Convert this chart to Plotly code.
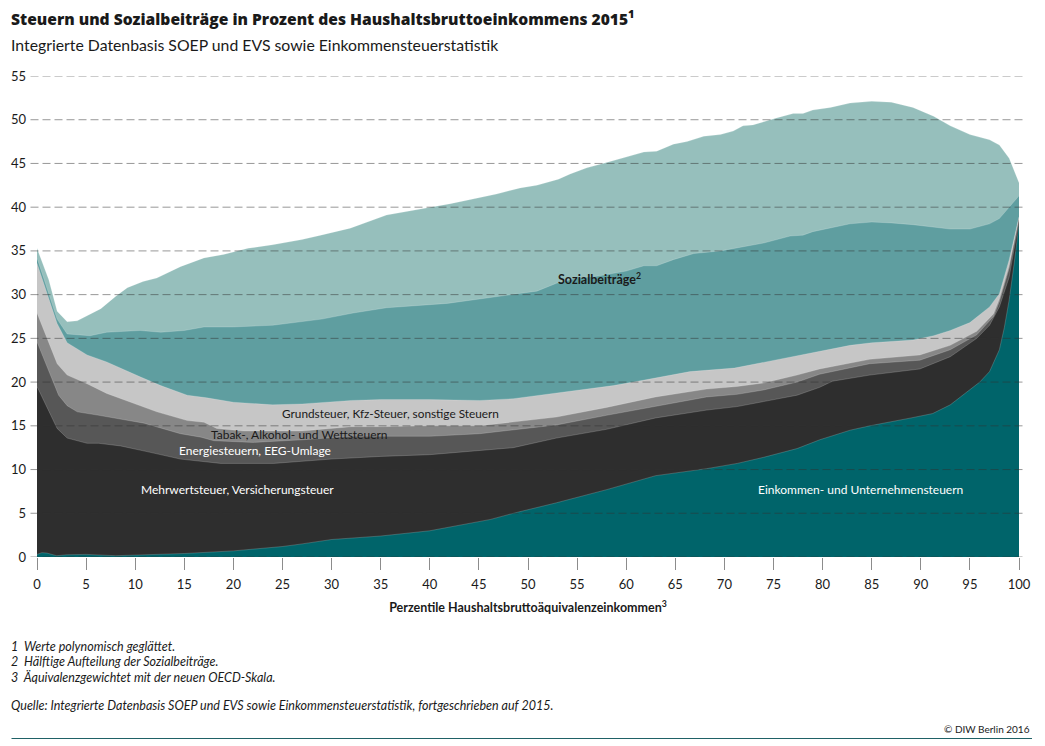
import plotly.graph_objects as go

# Chart values (cumulative upper edge of each band)
income_x = [0, 0.5, 1, 2, 3, 5, 8, 10, 15, 20, 25, 27, 30, 35, 40, 46.2, 48.5, 52.9, 58, 63, 68.2, 71.3, 74, 77.4, 79.7, 82.8, 84.8, 89, 91.2, 93, 95, 96, 97, 98, 98.5, 99, 99.5, 100]
income_top = [0.3, 0.5, 0.45, 0.15, 0.25, 0.3, 0.15, 0.2, 0.4, 0.7, 1.2, 1.5, 2.0, 2.4, 3.0, 4.3, 5.0, 6.2, 7.7, 9.3, 10.1, 10.7, 11.4, 12.4, 13.4, 14.5, 15.0, 15.9, 16.4, 17.4, 19.1, 20.0, 21.2, 23.7, 26.2, 29.4, 33.5, 38.0]

vat_x = [0, 1.2, 2.05, 3.07, 5.1, 6.3, 8.5, 11.2, 14.6, 18.7, 24.1, 30, 35, 40, 45.1, 48.5, 52.9, 58, 63, 68.2, 71.3, 74, 77.4, 79.7, 81, 84.8, 89.9, 93, 95.7, 97, 98, 99, 100]
vat_top = [19.5, 16.8, 14.7, 13.6, 13.0, 13.0, 12.7, 12.05, 11.2, 10.7, 10.7, 11.2, 11.5, 11.7, 12.2, 12.5, 13.6, 14.6, 15.9, 16.8, 17.2, 17.8, 18.5, 19.4, 20.1, 20.8, 21.5, 22.9, 25.0, 26.5, 28.6, 32.0, 38.4]

energy_x = [0, 2.2, 3.07, 4.1, 6.3, 7.9, 10.9, 14.6, 16.7, 18, 22, 27, 32, 35, 40, 45.1, 48.5, 52.9, 58, 63, 68.2, 71.3, 74, 77.4, 79.7, 84.8, 89.9, 93, 95.7, 97.4, 98, 99, 100]
energy_top = [24.6, 18.5, 17.3, 16.6, 16.2, 15.9, 15.3, 14.1, 13.7, 13.3, 13.1, 13.4, 13.8, 13.8, 13.8, 14.1, 14.5, 15.1, 16.2, 17.2, 18.3, 18.6, 19.1, 20.0, 20.9, 22.1, 22.5, 23.7, 25.4, 27.5, 29.2, 33.0, 38.6]

tobacco_x = [0, 2.05, 3.07, 5.1, 7.1, 9.2, 10.2, 12.2, 15.3, 17, 18.3, 21, 27, 32, 35, 40, 45.1, 48.5, 52.9, 58, 63, 68.2, 71.3, 74, 77.4, 79.7, 84.8, 89.9, 93, 95.7, 97.4, 98, 99, 100]
tobacco_top = [27.9, 22.1, 20.8, 19.8, 18.7, 17.8, 17.4, 16.6, 15.6, 15.4, 14.7, 14.4, 14.4, 14.9, 14.9, 15.0, 15.0, 15.4, 16.0, 17.1, 18.3, 19.2, 19.5, 19.9, 20.8, 21.5, 22.6, 23.1, 24.2, 25.8, 27.8, 29.5, 33.3, 38.8]

other_x = [0, 2.05, 3.07, 5.1, 7.1, 9.2, 10.5, 12.6, 15.3, 17.3, 20, 24, 27, 32, 35, 40, 45.1, 48.5, 53.9, 58.7, 61.7, 66.5, 71, 73.3, 77, 79.7, 82.8, 85, 89.2, 91.3, 93, 95, 97, 98, 99, 100]
other_top = [33.6, 26.7, 24.5, 23.1, 22.3, 21.2, 20.6, 19.6, 18.5, 18.2, 17.7, 17.4, 17.5, 17.9, 18.0, 18.0, 17.9, 18.1, 18.9, 19.6, 20.2, 21.2, 21.6, 22.1, 22.9, 23.5, 24.2, 24.5, 24.8, 25.3, 25.9, 26.8, 28.6, 30.1, 34.0, 38.9]

social1_x = [0, 2.05, 3.07, 4.1, 5.4, 7.1, 10.5, 12.6, 15, 17, 20, 24, 27, 29, 32.2, 35.6, 41.8, 46.8, 50.9, 52.9, 55, 57, 60, 61.8, 63.1, 64.8, 66.9, 69.6, 71.9, 74, 76.7, 78, 79, 80.8, 82.8, 85, 87, 89.2, 91.3, 93, 95, 97, 98, 99, 100]
social1_top = [34.2, 27.2, 25.5, 25.4, 25.3, 25.7, 25.9, 25.7, 25.9, 26.3, 26.3, 26.5, 26.9, 27.2, 27.9, 28.5, 29.0, 29.8, 30.4, 31.3, 31.9, 32.1, 32.7, 33.3, 33.3, 34.0, 34.7, 35.0, 35.5, 35.9, 36.7, 36.8, 37.2, 37.6, 38.1, 38.3, 38.2, 38.0, 37.7, 37.5, 37.5, 38.1, 38.7, 40.0, 41.3]

social2_x = [0, 1.2, 2.05, 3.07, 4.1, 5, 6.5, 8, 9.2, 10.8, 12.2, 14.6, 17, 19, 21.5, 24, 27, 28.9, 31.9, 35.6, 39.7, 42.1, 46.8, 49.2, 50.9, 53.1, 54.3, 56, 58, 60, 61.8, 63.1, 64.8, 66.2, 67.9, 69.6, 70.9, 71.9, 72.9, 75.3, 77, 78, 79, 80.8, 82.8, 85, 87, 89.2, 91.3, 93, 95, 97, 98, 99, 100]
social2_top = [35.3, 31.7, 28.1, 26.9, 27.0, 27.5, 28.4, 29.8, 30.8, 31.5, 31.9, 33.2, 34.2, 34.6, 35.3, 35.7, 36.3, 36.8, 37.6, 39.1, 39.9, 40.4, 41.5, 42.2, 42.5, 43.2, 43.8, 44.5, 45.1, 45.7, 46.3, 46.4, 47.2, 47.5, 48.1, 48.3, 48.7, 49.3, 49.4, 50.2, 50.7, 50.7, 51.1, 51.4, 51.9, 52.1, 52.0, 51.4, 50.4, 49.3, 48.3, 47.7, 47.1, 45.6, 42.8]

y_ticks = [0, 5, 10, 15, 20, 25, 30, 35, 40, 45, 50, 55]
x_ticks = [0, 5, 10, 15, 20, 25, 30, 35, 40, 45, 50, 55, 60, 65, 70, 75, 80, 85, 90, 95, 100]

notes = [
    "1  Werte polynomisch geglättet.",
    "2  Hälftige Aufteilung der Sozialbeiträge.",
    "3  Äquivalenzgewichtet mit der neuen OECD-Skala.",
]
source = "Quelle: Integrierte Datenbasis SOEP und EVS sowie Einkommensteuerstatistik, fortgeschrieben auf 2015."

WIDTH, HEIGHT = 1045, 746
LEFT, RIGHT, TOP, BOTTOM = 36.5, 1019, 76, 557
FONT = "Lato"
TEXT = "#1a1a1a"


# page pixels to paper coordinates
def px(x):
    return (x - LEFT) / (RIGHT - LEFT)


def py(y):
    return (BOTTOM - y) / (BOTTOM - TOP)


fig = go.Figure()

# Back to front, every band fills down to zero
bands = [
    ("Sozialbeiträge (Arbeitgeber)", social2_x, social2_top, "#96bfbc"),
    ("Sozialbeiträge", social1_x, social1_top, "#5f9ea0"),
    ("Grundsteuer, Kfz-Steuer, sonstige Steuern", other_x, other_top, "#c6c6c6"),
    ("Tabak-, Alkohol- und Wettsteuern", tobacco_x, tobacco_top, "#878787"),
    ("Energiesteuern, EEG-Umlage", energy_x, energy_top, "#575757"),
    ("Mehrwertsteuer, Versicherungsteuer", vat_x, vat_top, "#2e2e2e"),
    ("Einkommen- und Unternehmensteuern", income_x, income_top, "#00646a"),
]
for name, xs, ys, color in bands:
    fig.add_trace(go.Scatter(x=xs, y=ys, mode="lines", name=name, fill="tozeroy", fillcolor=color,
                             line=dict(color="rgba(255,255,255,0.3)", width=0.6), showlegend=False))

# Dashed gridlines sit on top of the areas and run past the plot on both sides
for v in y_ticks:
    fig.add_shape(type="line", xref="paper", yref="y", x0=px(30), x1=px(1023.5), y0=v, y1=v, layer="above",
                  line=dict(color="rgba(50,50,50,0.5)", width=1, dash="8px,4px"))

labels = [
    (57.3, 31.9, "Sozialbeiträge<sup>2</sup>", "#1a1a1a", True, 12.5),
    (36, 16.4, "Grundsteuer, Kfz-Steuer, sonstige Steuern", "#1a1a1a", False, 11.8),
    (26.7, 14.0, "Tabak-, Alkohol- und Wettsteuern", "#1a1a1a", False, 12),
    (22.2, 12.2, "Energiesteuern, EEG-Umlage", "#ffffff", False, 12),
    (20.4, 7.7, "Mehrwertsteuer, Versicherungsteuer", "#ffffff", False, 12),
    (83.9, 7.7, "Einkommen- und Unternehmensteuern", "#ffffff", False, 12),
]
for x, y, text, color, bold, size in labels:
    fig.add_annotation(x=x, y=y, text=f"<b>{text}</b>" if bold else text, showarrow=False,
                       font=dict(family=FONT, size=size, color=color))


def page_text(x, y, text, size, anchor="left", family=FONT, **font):
    fig.add_annotation(xref="paper", yref="paper", x=px(x), y=py(y), text=text, showarrow=False, xanchor=anchor,
                       yanchor="middle", align=anchor, font=dict(family=family, size=size, color=TEXT, **font))


page_text(8, 18, "Steuern und Sozialbeiträge in Prozent des Haushaltsbruttoeinkommens 2015<sup>1</sup>", 15.6,
          family="Open Sans", weight=800)
page_text(8, 44, "Integrierte Datenbasis SOEP und EVS sowie Einkommensteuerstatistik", 15.8)
for y, note in zip([646, 661, 677], notes):
    page_text(8, y, f"<i>{note}</i>", 12.5)
page_text(8, 705, f"<i>{source}</i>", 12.5)
page_text(1032.5, 729, "© DIW Berlin 2016", 10, anchor="right")

fig.add_shape(type="line", xref="paper", yref="paper", x0=px(11), x1=px(1032), y0=py(738.5), y1=py(738.5),
              line=dict(color="#1f6166", width=1))

fig.update_layout(
    width=WIDTH, height=HEIGHT, autosize=False, plot_bgcolor="white", paper_bgcolor="white",
    margin=dict(l=LEFT, r=WIDTH - RIGHT, t=TOP, b=HEIGHT - BOTTOM),
    font=dict(family=FONT, size=13, color=TEXT),
    xaxis=dict(range=[0, 100], tickvals=x_ticks, ticks="outside", ticklen=12, tickcolor="#8c8c8c", showgrid=False,
               zeroline=False, showline=False, ticklabelstandoff=3,
               title=dict(text="<b>Perzentile Haushaltsbruttoäquivalenzeinkommen<sup>3</sup></b>",
                          font=dict(family=FONT, size=12.5, color=TEXT), standoff=12)),
    yaxis=dict(range=[0, 55], tickvals=y_ticks, ticks="", showgrid=False, zeroline=False, showline=False,
               ticklabelstandoff=10),
)

fig.write_html("out.html", config=dict(displayModeBar=False), post_script="document.body.style.margin='0';")
